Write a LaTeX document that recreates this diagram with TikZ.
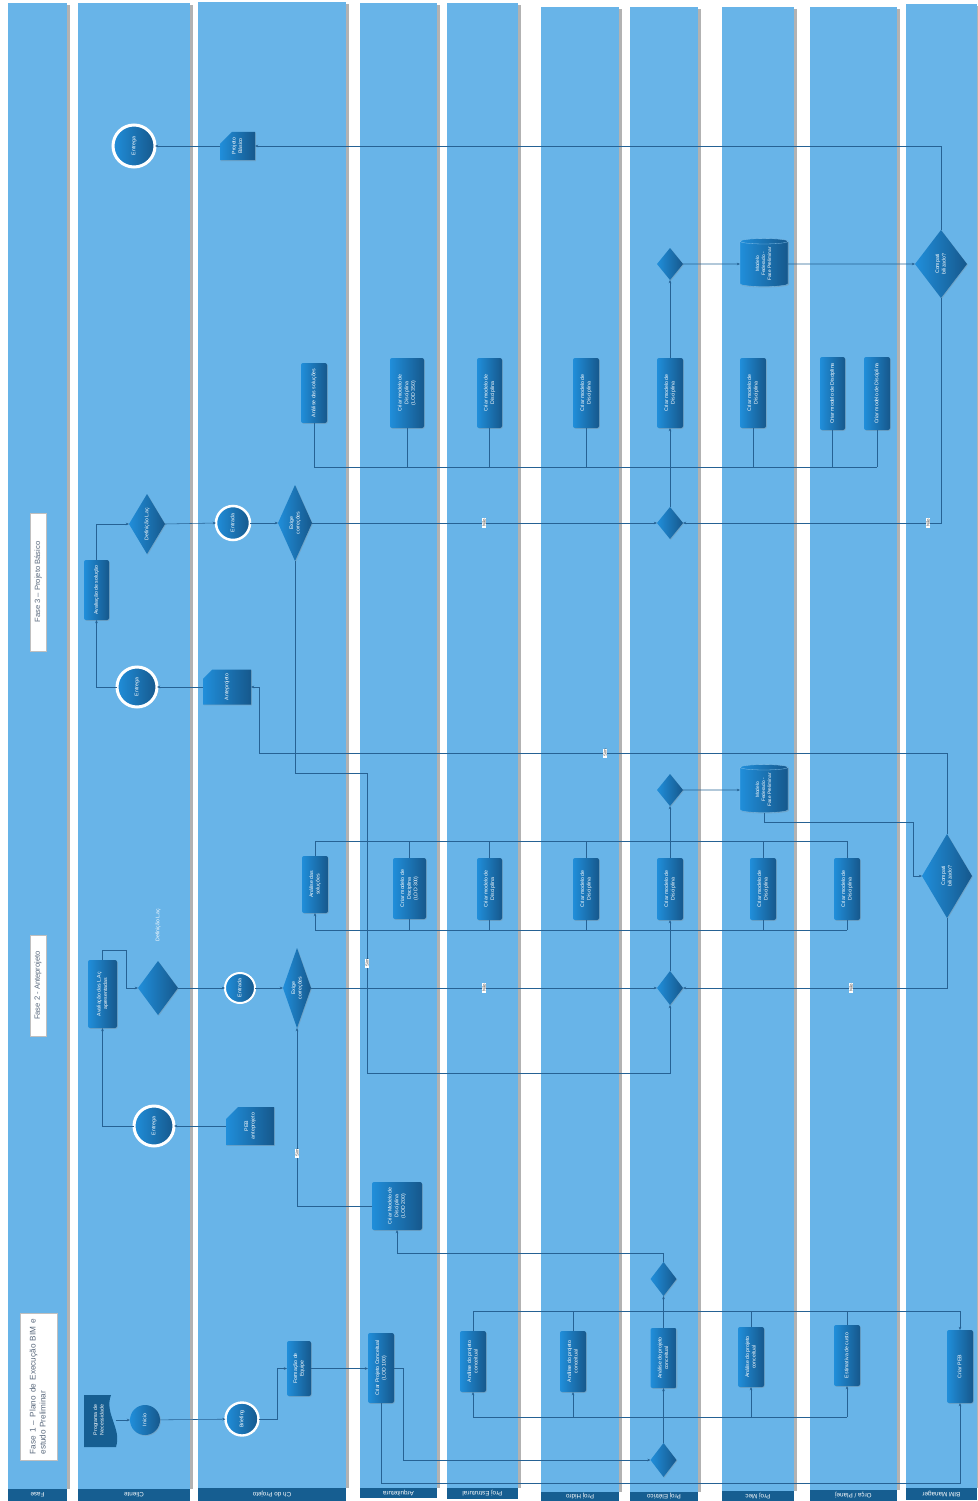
\documentclass[tikz,border=0pt]{standalone}
\usepackage{fontspec}
\setmainfont{Liberation Sans}
\usetikzlibrary{shapes.geometric,shapes.misc,arrows.meta,shadows}
\definecolor{lane}{RGB}{104,180,232}
\definecolor{hdr}{RGB}{22,94,145}
\definecolor{nl}{RGB}{32,142,218}
\definecolor{nr}{RGB}{22,88,140}
\definecolor{ln}{RGB}{38,98,148}
\definecolor{ftxt}{RGB}{90,105,125}
\newcommand\rt[1]{\rotatebox{90}{\begin{tabular}{@{}c@{}}#1\end{tabular}}}
\begin{document}
\begin{tikzpicture}[x=1pt,y=-1pt,
  every node/.style={inner sep=0pt, outer sep=0pt, text=white, font=\fontsize{5.2}{6.6}\selectfont},
  sh/.style={drop shadow={shadow xshift=0.8pt,shadow yshift=-0.8pt,opacity=0.3}},
  proc/.style={rectangle, rounded corners=2pt, left color=nl, right color=nr, sh},
  dia/.style={diamond, aspect=0.76, left color=nl, right color=nr, sh},
  circ/.style={circle, left color=nl, right color=nr, sh},
  ring/.style={circle, left color=nl, right color=nr, draw=white, line width=2.4pt, sh},
  docu/.style={chamfered rectangle, chamfered rectangle corners=north west, chamfered rectangle xsep=6pt, chamfered rectangle ysep=6pt, left color=nl, right color=nr, sh},
  dbase/.style={cylinder, shape border rotate=90, aspect=0.3, left color=nl, right color=nr, draw=nl!55!white, line width=0.3pt, sh, font=\fontsize{4.8}{6}\selectfont},
  con/.style={draw=ln, line width=0.55pt},
  arr/.style={con, -{Stealth[length=3.2pt,width=2.6pt]}},
  lbl/.style={fill=white, text=black!75, inner sep=0.8pt, font=\fontsize{4.3}{5}\selectfont},
  hdrbox/.style={fill=hdr, anchor=north west, font=\fontsize{6.3}{7}\selectfont},
  fasebox/.style={fill=white, draw=gray!50, line width=0.3pt, text=ftxt}
]
\useasboundingbox (0,0) rectangle (977,1501);
% lanes
\foreach \xa/\xb/\yt/\yh in {8/67/3/1489, 78/190/3/1489, 198/346/2/1488, 360/437/3/1488, 447/518/3/1488, 541/619/7/1492, 630/698/7/1492, 722/794/7/1491, 810/897/7/1490, 906/977/4/1488} {
  \fill[black!30] (\xb,\yt+2) rectangle (\xb+2.5,\yh);
  \fill[lane] (\xa,\yt) rectangle (\xb,\yh);
}
% headers
\node[hdrbox, minimum width=59, minimum height=12] (hF) at (8,1489) {\rotatebox{180}{Fase}};
\node[hdrbox, minimum width=112, minimum height=12] (hC) at (78,1489) {\rotatebox{180}{Cliente}};
\node[hdrbox, minimum width=148, minimum height=13] (hP) at (198,1488) {\rotatebox{180}{Ch do Projeto}};
\node[hdrbox, minimum width=77, minimum height=10] (hA) at (360,1488) {\rotatebox{180}{Arquitetura}};
\node[hdrbox, minimum width=71, minimum height=11] (hE) at (447,1488) {\rotatebox{180}{Proj Estrutural}};
\node[hdrbox, minimum width=78, minimum height=9] (hH) at (541,1492) {\rotatebox{180}{Proj Hidro}};
\node[hdrbox, minimum width=68, minimum height=9] (hL) at (630,1492) {\rotatebox{180}{Proj Elétrico}};
\node[hdrbox, minimum width=72, minimum height=10] (hM) at (722,1491) {\rotatebox{180}{Proj Mec}};
\node[hdrbox, minimum width=87, minimum height=11] (hO) at (810,1490) {\rotatebox{180}{Orça / Planej}};
\node[hdrbox, minimum width=71, minimum height=12] (hB) at (906,1488) {\rotatebox{180}{BIM Manager}};
% phase boxes
\node[fasebox, minimum width=37, minimum height=147] (f1) at (38.5,1386.5) {\rotatebox{90}{\fontsize{8.2}{10}\selectfont\begin{tabular}{@{}l@{}}\makebox[136pt][s]{Fase 1 – Plano de Execução BIM e}\\estudo Preliminar\end{tabular}}};
\node[fasebox, minimum width=16, minimum height=101] (f2) at (38,985.5) {\rotatebox{90}{\fontsize{7.6}{8}\selectfont Fase 2 - Anteprojeto}};
\node[fasebox, minimum width=16, minimum height=138] (f3) at (38,582) {\rotatebox{90}{\fontsize{7.6}{8}\selectfont Fase 3 – Projeto Básico}};

% ---------- phase 1 nodes
\fill[hdr] (84,1395) -- (111,1395) .. controls (104,1414) and (122,1428) .. (116,1447) -- (84,1447) -- cycle;
\node[minimum width=33, minimum height=52] (prog) at (99,1420) {\rt{Programa de\\Necessidade}};
\node[circ, minimum size=30] (ini) at (145,1420) {\rt{Inicio}};
\node[ring, minimum size=33] (brf) at (242,1419) {\rt{Briefing}};
\node[proc, minimum width=24, minimum height=55] (frm) at (299,1368.5) {\rt{Formação de\\Equipe}};
\node[proc, minimum width=26, minimum height=70] (cpc) at (381,1368) {\rt{Criar Projeto Conceitual\\(LOD 100)}};
\node[proc, minimum width=26, minimum height=61] (ae1) at (473,1361.5) {\rt{Análise do projeto\\conceitual}};
\node[proc, minimum width=26, minimum height=61] (ah1) at (573,1361.5) {\rt{Análise do projeto\\conceitual}};
\node[proc, minimum width=26, minimum height=60] (ael1) at (663.5,1358) {\rt{Análise do projeto\\conceitual}};
\node[proc, minimum width=26, minimum height=60] (am1) at (751,1357) {\rt{Análise do projeto\\conceitual}};
\node[proc, minimum width=26, minimum height=61] (orc1) at (847,1355.5) {\rt{Estimativa de custo}};
\node[proc, minimum width=26, minimum height=73] (peb) at (960,1366.5) {\rt{Criar PEB}};
\node[dia, minimum width=26, minimum height=34] (dEa) at (663.5,1279) {};
\node[dia, minimum width=26, minimum height=34] (dEb) at (663.5,1460) {};
\node[proc, minimum width=50, minimum height=48] (c200) at (397,1206) {\rt{Criar Modelo de\\Disciplina\\(LOD 200)}};
\node[docu, minimum width=48, minimum height=36] (pebd) at (250,1126) {\rt{PEB\\anteprojeto}};
\node[ring, minimum size=40, line width=3pt] (ent1) at (154,1126) {\rt{Entrega}};

% ---------- phase 2 nodes
\node[proc, minimum width=29, minimum height=68] (avl) at (102.5,994) {\rt{Avaliação das L.Aç\\apresentadas}};
\node[dia, minimum width=40, minimum height=54] (def2) at (158,988) {};
\node (def2l) at (158,925) {\rt{Definição L.aç}};
\node[ring, minimum size=30, line width=2pt] (en2) at (240,988) {\rt{Entrada}};
\node[dia, aspect=0.35, minimum width=28, minimum height=80] (ex2) at (297,988) {\rt{Exige\\correções}};
\node[proc, minimum width=26, minimum height=57] (as2) at (315,884.5) {\rt{Análise das\\soluções}};
\node[proc, minimum width=33, minimum height=61] (c300) at (409.5,888.5) {\rt{Criar modelo de\\Disciplina\\(LOD 300)}};
\node[proc, minimum width=25, minimum height=62] (ce2) at (489.5,889) {\rt{Criar modelo de\\Disciplina}};
\node[proc, minimum width=26, minimum height=62] (ch2) at (586,889) {\rt{Criar modelo de\\Disciplina}};
\node[proc, minimum width=26, minimum height=62] (cel2) at (670,889) {\rt{Criar modelo de\\Disciplina}};
\node[proc, minimum width=26, minimum height=62] (cm2) at (763,889) {\rt{Criar modelo de\\Disciplina}};
\node[proc, minimum width=26, minimum height=62] (co2) at (847,889) {\rt{Criar modelo de\\Disciplina}};
\node[dia, minimum width=26, minimum height=34] (dE2) at (670,988) {};
\node[dia, minimum width=26, minimum height=32] (dE2b) at (670,790) {};
\node[dbase, minimum width=48, minimum height=48] (mf2) at (764,790) {\rt{Modelo\\Federado -\\Fase Preliminar}};
\node[dia, aspect=0.6, minimum width=50, minimum height=84] (cp2) at (947,876) {\rt{Compati\\bilizado?}};
\node[docu, minimum width=48, minimum height=35] (ap) at (227,687) {\rt{Anteprojeto}};
\node[ring, minimum size=40, line width=3pt] (ent2) at (137,687) {\rt{Entrega}};

% ---------- phase 3 nodes
\node[proc, minimum width=25, minimum height=60] (avs) at (96.5,590) {\rt{Avaliação de solução}};
\node[dia, aspect=0.6, minimum width=36, minimum height=60] (def3) at (147,524) {\rt{Definição L.aç}};
\node[ring, minimum size=34, line width=2.5pt] (en3) at (233,523) {\rt{Entrada}};
\node[dia, aspect=0.45, minimum width=34, minimum height=76] (ex3) at (295,523) {\rt{Exige\\correções}};
\node[proc, minimum width=26, minimum height=60] (as3) at (314,393) {\rt{Análise das soluções}};
\node[proc, minimum width=34, minimum height=70] (c350) at (407,393) {\rt{Criar modelo de\\Disciplina\\(LOD 350)}};
\node[proc, minimum width=25, minimum height=70] (ce3) at (489.5,393) {\rt{Criar modelo de\\Disciplina}};
\node[proc, minimum width=26, minimum height=70] (ch3) at (586,393) {\rt{Criar modelo de\\Disciplina}};
\node[proc, minimum width=26, minimum height=70] (cel3) at (670,393) {\rt{Criar modelo de\\Disciplina}};
\node[proc, minimum width=26, minimum height=70] (cm3) at (753,393) {\rt{Criar modelo de\\Disciplina}};
\node[proc, minimum width=25, minimum height=73] (co3a) at (832.5,393.5) {\rt{Criar modelo de Disciplina}};
\node[proc, minimum width=26, minimum height=73] (co3b) at (877,393.5) {\rt{Criar modelo de Disciplina}};
\node[dia, minimum width=26, minimum height=32] (dE3) at (670,523) {};
\node[dia, minimum width=26, minimum height=32] (dE3b) at (670,264) {};
\node[dbase, minimum width=48, minimum height=48] (mf3) at (764,264) {\rt{Modelo\\Federado -\\Fase Preliminar}};
\node[dia, aspect=0.75, minimum width=52, minimum height=68] (cp3) at (941,264) {\rt{Compati\\bilizado?}};
\node[docu, minimum width=35, minimum height=25] (pb) at (237.5,146) {\rt{Projeto\\Básico}};
\node[ring, minimum size=42, line width=3pt] (ent3) at (134,146) {\rt{Entrega}};

% bus coordinates
\coordinate (b1) at (0,1417);
\coordinate (t1) at (0,1311);
\coordinate (b2) at (0,930);
\coordinate (t2) at (0,841);
\coordinate (b3) at (0,467);

% ---------- phase 1 connectors
\draw[arr] (prog.east) -- (ini.west);
\draw[arr] (ini) -- (brf);
\draw[arr] (brf.east) -- (277,1419) |- (frm.west);
\draw[arr] (frm.east) -- (cpc.west |- frm.east);
\draw[arr] (cpc.east) -- (403,1368) |- (dEb.west);
\draw[arr] (cpc.south) |- (960,1483) -- (peb.south);
\draw[arr] (dEb.north) -- (ael1.south);
\draw[con] (ae1.south |- b1) -- (orc1.south |- b1);
\foreach \n in {ae1,ah1,am1,orc1} \draw[arr] (\n.south |- b1) -- (\n.south);
\foreach \n in {ae1,ah1,am1,orc1} \draw[con] (\n.north) -- (\n.north |- t1);
\draw[con] (ae1.north |- t1) -- (peb.north |- t1);
\draw[arr] (peb.north |- t1) -- (peb.north);
\draw[arr] (ael1.north) -- (dEa.south);
\draw[arr] (dEa.north) -- (663.5,1253) -| (c200.south);
\draw[arr] (c200.west) -| (ex2.south);
\draw[arr] (pebd.west) -- (ent1.east);
\draw[arr] (ent1.west) -| (avl.south);
\node[lbl] (s1) at (297,1153) {\rotatebox{90}{Sim}};

% ---------- phase 2 connectors
\draw[arr] (avl.north) -- (102.5,950) -- (126,950) |- (def2.west);
\draw[arr] (def2.east) -- (en2.west);
\draw[arr] (en2.east) -- (ex2.west);
\draw[arr] (ex2.east) -- (dE2.west);
\draw[arr] (cp2.south) |- (dE2.east);
\draw[arr] (dE2.north) -- (cel2.south);
\draw[con] (as2.south |- b2) -- (co2.south |- b2);
\draw[arr] (as2.south |- b2) -- (as2.south);
\foreach \n in {c300,ce2,ch2,cm2,co2} \draw[con] (\n.south |- b2) -- (\n.south);
\draw[con] (as2.north |- t2) -- (co2.north |- t2);
\foreach \n in {as2,c300,ce2,ch2,cm2,co2} \draw[con] (\n.north) -- (\n.north |- t2);
\draw[arr] (cel2.north) -- (dE2b.south);
\draw[arr] (dE2b.east) -- (mf2.west);
\draw[arr] (mf2.south) -- (764,822) -- (913,822) |- (cp2.west);
\draw[arr] (cp2.north) |- (259,753) |- (ap.east);
\draw[arr] (ap.west) -- (ent2.east);
\draw[arr] (ent2.west) -| (avs.south);
\draw[arr] (ex3.south) |- (367,773) |- (670,1073) -- (dE2.south);
\node[lbl] (n1) at (484,988) {\rotatebox{90}{Não}};
\node[lbl] (n2) at (851,988) {\rotatebox{90}{Não}};
\node[lbl] (s2) at (605,753) {\rotatebox{90}{Sim}};
\node[lbl] (s3) at (367,963) {\rotatebox{90}{Sim}};

% ---------- phase 3 connectors
\draw[arr] (avs.north) |- (def3.west);
\draw[arr] (def3.east) -- (en3.west);
\draw[arr] (en3.east) -- (ex3.west);
\draw[arr] (ex3.east) -- (dE3.west);
\draw[arr] (cp3.south) |- (dE3.east);
\draw[arr] (dE3.north) -- (cel3.south);
\draw[con] (as3.south |- b3) -- (co3b.south |- b3);
\foreach \n in {as3,c350,ce3,ch3,cm3,co3a,co3b} \draw[con] (\n.south) -- (\n.south |- b3);
\draw[arr] (cel3.north) -- (dE3b.south);
\draw[arr] (dE3b.east) -- (mf3.west);
\draw[arr] (mf3.east) -- (cp3.west);
\draw[arr] (cp3.north) |- (pb.east);
\draw[arr] (pb.west) -- (ent3.east);
\node[lbl] (n3) at (484,523) {\rotatebox{90}{Não}};
\node[lbl] (n4) at (928,523) {\rotatebox{90}{Não}};
\end{tikzpicture}
\end{document}
